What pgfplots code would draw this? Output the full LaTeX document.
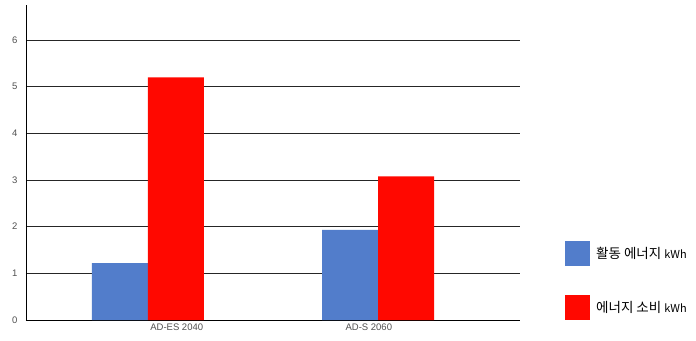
\documentclass[border=0pt]{standalone}
\usepackage{pgfplots}
\pgfplotsset{compat=1.18}
\usepackage{fontspec}
\setmainfont{Liberation Sans}
\newfontfamily\kr{Noto Sans CJK KR}
\definecolor{barblue}{RGB}{82,125,203}
\definecolor{barred}{RGB}{255,8,0}
\definecolor{ticklab}{RGB}{80,80,80}
\begin{document}
\begin{tikzpicture}
\begin{axis}[
  scale only axis,
  width=494bp, height=315bp,
  at={(0,0)}, anchor=south west,
  ymin=0, ymax=6.75,
  xmin=-0.53, xmax=1.617,
  axis x line=bottom, axis y line=left,
  axis line style={-, black, line width=0.9bp},
  ytick={0,1,2,3,4,5,6},
  xtick={0.125,0.96},
  xticklabels={AD-ES 2040, AD-S 2060},
  major tick length=0pt,
  ymajorgrids,
  grid style={black!85, line width=0.9bp},
  tick label style={font=\fontsize{9.5bp}{11bp}\selectfont, text=ticklab},
  yticklabel style={xshift=-5bp},
  xticklabel style={yshift=-0.5bp},
  /pgf/number format/assume math mode=true,
  ybar=0pt, bar width=56bp,
  legend style={draw=none, fill=none, at={(1.0915,0)}, anchor=south west,
    inner sep=0pt, outer sep=0pt, row sep=29bp,
    font=\kr\fontsize{13.5bp}{15bp}\selectfont, cells={anchor=west}},
  legend image code/.code={\fill[#1, draw=none] (0bp,-12.5bp) rectangle (25bp,12.5bp);},
  legend cell align=left,
]
\addplot[fill=barblue, draw=none] coordinates {(0,1.22) (1,1.93)};
\addplot[fill=barred, draw=none] coordinates {(0,5.2) (1,3.08)};
\legend{\hspace{4bp}활동 에너지 {\fontsize{11bp}{12bp}\selectfont kWh}, \hspace{4bp}에너지 소비 {\fontsize{11bp}{12bp}\selectfont kWh}}
\end{axis}
\pgfresetboundingbox
\path (-26bp,-21bp) rectangle (670bp,320bp);
\end{tikzpicture}
\end{document}
